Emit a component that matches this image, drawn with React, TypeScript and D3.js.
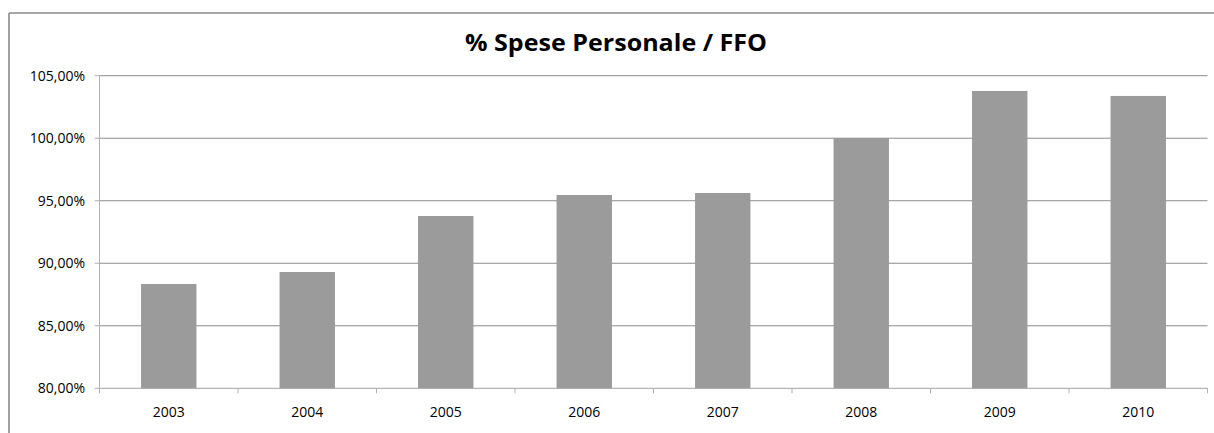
import React from "react";
import * as d3 from "d3";

const years = ["2003", "2004", "2005", "2006", "2007", "2008", "2009", "2010"];
const values = [88.34, 89.3, 93.78, 95.46, 95.62, 100.02, 103.78, 103.38];
const yTicks = [80, 85, 90, 95, 100, 105];
const title = "% Spese Personale / FFO";

const W = 1214;
const H = 433;
const plotLeft = 99.5;
const plotRight = 1207.5;
const plotTop = 75.7;
const plotBottom = 388.3;

const fmt = (v: number) => v.toFixed(2).replace(".", ",") + "%";

export default function App() {
  const x = d3.scaleBand<string>().domain(years).range([plotLeft, plotRight]).paddingInner(0.6).paddingOuter(0.3);
  const xOuter = d3.scaleBand<string>().domain(years).range([plotLeft, plotRight]);
  const y = d3.scaleLinear().domain([80, 105]).range([plotBottom, plotTop]);
  const font = "'Open Sans', Calibri, sans-serif";

  return (
    <div style={{ position: "absolute", left: 0, top: 0 }}>
      <svg width={W} height={H} style={{ display: "block" }}>
        <rect x={0} y={0} width={W} height={H} fill="#fff" />
        <line x1={9} x2={W} y1={13} y2={13} stroke="#8a8a8a" strokeWidth={1.6} />
        <line x1={9} x2={9} y1={13} y2={H} stroke="#8a8a8a" strokeWidth={1.6} />
        <text x={616} y={51} textAnchor="middle" fontFamily={font} fontWeight="bold" fontSize={23} fill="#000"
          textLength={302} lengthAdjust="spacingAndGlyphs">
          {title}
        </text>
        {/* gridlines */}
        {yTicks.filter((t) => t !== 80).map((t) => (
          <line key={"g" + t} x1={plotLeft} x2={plotRight} y1={y(t)} y2={y(t)} stroke="#8c8c8c" strokeWidth={1} />
        ))}
        {/* bars */}
        {years.map((yr, i) => (
          <rect key={yr} x={x(yr)} y={y(values[i])} width={x.bandwidth()} height={y(80) - y(values[i])} fill="#9b9b9b" />
        ))}
        {/* y axis */}
        <line x1={plotLeft} x2={plotLeft} y1={plotTop} y2={plotBottom} stroke="#b0b0b0" strokeWidth={1} />
        {yTicks.map((t) => (
          <g key={"t" + t}>
            <line x1={plotLeft - 5} x2={plotLeft} y1={y(t)} y2={y(t)} stroke="#b0b0b0" strokeWidth={1} />
            <text x={85} y={y(t)} dy="0.35em" textAnchor="end" fontFamily={font} fontSize={14} fill="#000">
              {fmt(t)}
            </text>
          </g>
        ))}
        {/* x axis */}
        <line x1={plotLeft} x2={plotRight} y1={plotBottom} y2={plotBottom} stroke="#a0a0a0" strokeWidth={1} />
        {years.map((yr) => (
          <line key={"xt" + yr} x1={xOuter(yr)} x2={xOuter(yr)} y1={plotBottom} y2={plotBottom + 5} stroke="#b0b0b0" strokeWidth={1} />
        ))}
        <line x1={plotRight} x2={plotRight} y1={plotBottom} y2={plotBottom + 5} stroke="#b0b0b0" strokeWidth={1} />
        {years.map((yr) => (
          <text key={"xl" + yr} x={(xOuter(yr) as number) + xOuter.bandwidth() / 2} y={417} textAnchor="middle" fontFamily={font} fontSize={14} fill="#000">
            {yr}
          </text>
        ))}
      </svg>
    </div>
  );
}
